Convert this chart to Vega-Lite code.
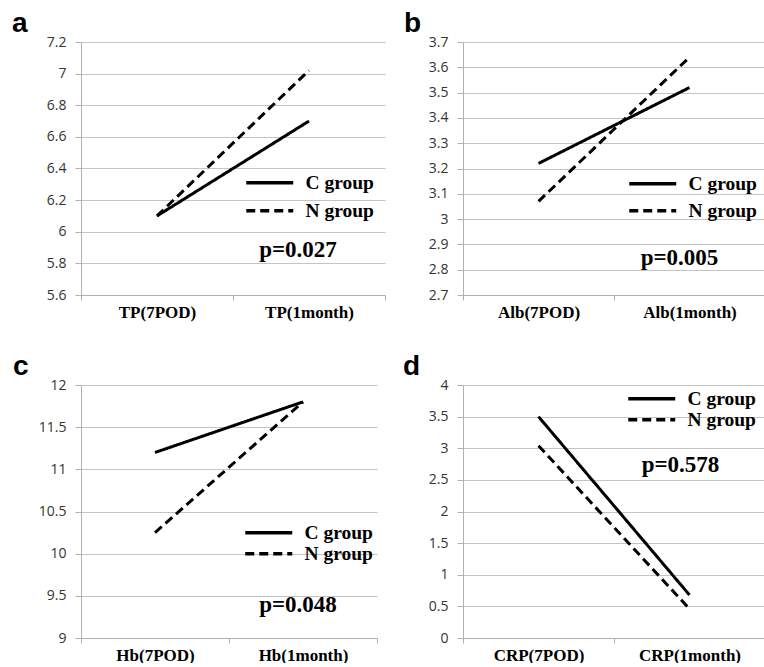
{
  "$schema": "https://vega.github.io/schema/vega-lite/v6.json",
  "padding": {"left": 12, "top": 10, "right": 0, "bottom": 0},
  "background": "white",
  "columns": 2,
  "spacing": {"column": 78, "row": 90},
  "bounds": "flush",
  "resolve": {"scale": {"x": "independent", "y": "independent", "strokeDash": "independent"}, "legend": {"strokeDash": "independent"}},
  "config": {
    "view": {"stroke": null},
    "axisY": {"title": null, "labelFont": "Open Sans", "labelFontSize": 14, "labelColor": "#333333", "tickColor": "#b0b0b0", "tickSize": 6, "domainColor": "#b0b0b0", "gridColor": "#c4c4c4", "gridWidth": 1, "labelPadding": 9, "format": "~f"},
    "axisX": {"title": null, "labelFont": "Liberation Serif", "labelFontWeight": "bold", "labelFontSize": 17, "labelColor": "black", "tickColor": "#b0b0b0", "tickSize": 5, "domainColor": "#b0b0b0", "grid": false, "labelAngle": 0, "labelPadding": 4, "tickBand": "extent"},
    "legend": {"orient": "none", "title": null, "padding": 0, "symbolType": "M-4,0H4", "symbolSize": 138, "symbolStrokeWidth": 3.5, "symbolStrokeColor": "black", "symbolFillColor": "transparent", "labelFont": "Liberation Serif", "labelFontWeight": "bold", "labelFontSize": 19.5, "labelColor": "black", "labelOffset": 26},
    "title": {"anchor": "start", "frame": "group", "offset": -3, "baseline": "alphabetic", "font": "Liberation Sans", "fontWeight": "bold", "fontSize": 28, "color": "black"}
  },
  "concat": [
    {
      "width": 304, "height": 253,
      "title": {"text": "a", "dx": -69},
      "layer": [
        {
          "data": {"values": [
            {"time": "TP(7POD)", "group": "C group", "value": 6.1},
            {"time": "TP(1month)", "group": "C group", "value": 6.7},
            {"time": "TP(7POD)", "group": "N group", "value": 6.1},
            {"time": "TP(1month)", "group": "N group", "value": 7.02}
          ]},
          "mark": {"type": "line", "strokeWidth": 3, "color": "black"},
          "encoding": {
            "x": {"field": "time", "type": "nominal", "bandPosition": 0.5, "sort": ["TP(7POD)", "TP(1month)"], "scale": {"type": "band", "paddingInner": 0, "paddingOuter": 0}},
            "y": {"field": "value", "type": "quantitative", "scale": {"domain": [5.6, 7.2], "nice": false, "zero": false}, "axis": {"values": [5.6, 5.8, 6, 6.2, 6.4, 6.6, 6.8, 7, 7.2]}},
            "strokeDash": {"field": "group", "type": "nominal", "scale": {"domain": ["C group", "N group"], "range": [[1, 0], [9, 5]]}, "legend": {"legendX": 179, "legendY": 131, "rowPadding": 7}}
          }
        },
        {
          "data": {"values": [{"time": "TP(1month)", "value": 5.84, "label": "p=0.027"}]},
          "mark": {"type": "text", "font": "Liberation Serif", "fontWeight": "bold", "fontSize": 23, "baseline": "alphabetic", "align": "center", "dx": -11, "color": "black"},
          "encoding": {
            "x": {"field": "time", "type": "nominal", "bandPosition": 0.5, "sort": ["TP(7POD)", "TP(1month)"]},
            "y": {"field": "value", "type": "quantitative", "axis": {"values": [5.6, 5.8, 6, 6.2, 6.4, 6.6, 6.8, 7, 7.2]}},
            "text": {"field": "label"}
          }
        }
      ]
    },
    {
      "width": 302, "height": 253,
      "title": {"text": "b", "dx": -59},
      "layer": [
        {
          "data": {"values": [
            {"time": "Alb(7POD)", "group": "C group", "value": 3.22},
            {"time": "Alb(1month)", "group": "C group", "value": 3.52},
            {"time": "Alb(7POD)", "group": "N group", "value": 3.07},
            {"time": "Alb(1month)", "group": "N group", "value": 3.64}
          ]},
          "mark": {"type": "line", "strokeWidth": 3, "color": "black"},
          "encoding": {
            "x": {"field": "time", "type": "nominal", "bandPosition": 0.5, "sort": ["Alb(7POD)", "Alb(1month)"], "scale": {"type": "band", "paddingInner": 0, "paddingOuter": 0}},
            "y": {"field": "value", "type": "quantitative", "scale": {"domain": [2.7, 3.7], "nice": false, "zero": false}, "axis": {"values": [2.7, 2.8, 2.9, 3, 3.1, 3.2, 3.3, 3.4, 3.5, 3.6, 3.7]}},
            "strokeDash": {"field": "group", "type": "nominal", "scale": {"domain": ["C group", "N group"], "range": [[1, 0], [9, 5]]}, "legend": {"legendX": 180, "legendY": 132, "rowPadding": 6}}
          }
        },
        {
          "data": {"values": [{"time": "Alb(1month)", "value": 2.82, "label": "p=0.005"}]},
          "mark": {"type": "text", "font": "Liberation Serif", "fontWeight": "bold", "fontSize": 23, "baseline": "alphabetic", "align": "center", "dx": -10, "color": "black"},
          "encoding": {
            "x": {"field": "time", "type": "nominal", "bandPosition": 0.5, "sort": ["Alb(7POD)", "Alb(1month)"]},
            "y": {"field": "value", "type": "quantitative", "axis": {"values": [2.7, 2.8, 2.9, 3, 3.1, 3.2, 3.3, 3.4, 3.5, 3.6, 3.7]}},
            "text": {"field": "label"}
          }
        }
      ]
    },
    {
      "width": 296, "height": 253,
      "title": {"text": "c", "dx": -68},
      "layer": [
        {
          "data": {"values": [
            {"time": "Hb(7POD)", "group": "C group", "value": 11.2},
            {"time": "Hb(1month)", "group": "C group", "value": 11.8},
            {"time": "Hb(7POD)", "group": "N group", "value": 10.25},
            {"time": "Hb(1month)", "group": "N group", "value": 11.8}
          ]},
          "mark": {"type": "line", "strokeWidth": 3, "color": "black"},
          "encoding": {
            "x": {"field": "time", "type": "nominal", "bandPosition": 0.5, "sort": ["Hb(7POD)", "Hb(1month)"], "scale": {"type": "band", "paddingInner": 0, "paddingOuter": 0}},
            "y": {"field": "value", "type": "quantitative", "scale": {"domain": [9, 12], "nice": false, "zero": false}, "axis": {"values": [9, 9.5, 10, 10.5, 11, 11.5, 12]}},
            "strokeDash": {"field": "group", "type": "nominal", "scale": {"domain": ["C group", "N group"], "range": [[1, 0], [9, 5]]}, "legend": {"legendX": 178, "legendY": 138, "rowPadding": 0}}
          }
        },
        {
          "data": {"values": [{"time": "Hb(1month)", "value": 9.31, "label": "p=0.048"}]},
          "mark": {"type": "text", "font": "Liberation Serif", "fontWeight": "bold", "fontSize": 23, "baseline": "alphabetic", "align": "center", "dx": -5, "color": "black"},
          "encoding": {
            "x": {"field": "time", "type": "nominal", "bandPosition": 0.5, "sort": ["Hb(7POD)", "Hb(1month)"]},
            "y": {"field": "value", "type": "quantitative", "axis": {"values": [9, 9.5, 10, 10.5, 11, 11.5, 12]}},
            "text": {"field": "label"}
          }
        }
      ]
    },
    {
      "width": 302, "height": 253,
      "title": {"text": "d", "dx": -60},
      "layer": [
        {
          "data": {"values": [
            {"time": "CRP(7POD)", "group": "C group", "value": 3.5},
            {"time": "CRP(1month)", "group": "C group", "value": 0.68},
            {"time": "CRP(7POD)", "group": "N group", "value": 3.04},
            {"time": "CRP(1month)", "group": "N group", "value": 0.46}
          ]},
          "mark": {"type": "line", "strokeWidth": 3, "color": "black"},
          "encoding": {
            "x": {"field": "time", "type": "nominal", "bandPosition": 0.5, "sort": ["CRP(7POD)", "CRP(1month)"], "scale": {"type": "band", "paddingInner": 0, "paddingOuter": 0}},
            "y": {"field": "value", "type": "quantitative", "scale": {"domain": [0, 4], "nice": false, "zero": false}, "axis": {"values": [0, 0.5, 1, 1.5, 2, 2.5, 3, 3.5, 4]}},
            "strokeDash": {"field": "group", "type": "nominal", "scale": {"domain": ["C group", "N group"], "range": [[1, 0], [9, 5]]}, "legend": {"legendX": 179, "legendY": 4, "rowPadding": 0}}
          }
        },
        {
          "data": {"values": [{"time": "CRP(1month)", "value": 2.62, "label": "p=0.578"}]},
          "mark": {"type": "text", "font": "Liberation Serif", "fontWeight": "bold", "fontSize": 23, "baseline": "alphabetic", "align": "center", "dx": -9, "color": "black"},
          "encoding": {
            "x": {"field": "time", "type": "nominal", "bandPosition": 0.5, "sort": ["CRP(7POD)", "CRP(1month)"]},
            "y": {"field": "value", "type": "quantitative", "axis": {"values": [0, 0.5, 1, 1.5, 2, 2.5, 3, 3.5, 4]}},
            "text": {"field": "label"}
          }
        }
      ]
    }
  ]
}
